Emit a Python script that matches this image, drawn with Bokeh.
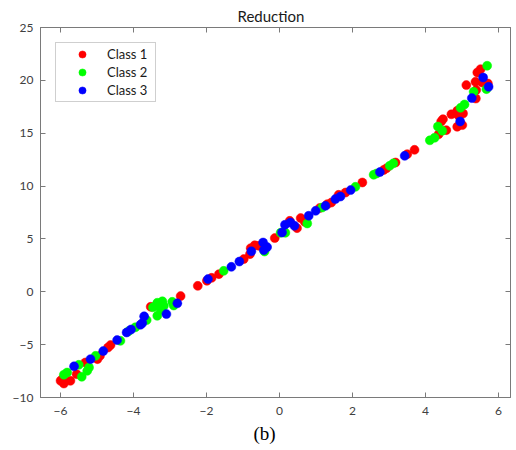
from bokeh.plotting import figure
from bokeh.models import Range1d, LinearAxis, FixedTicker, Legend, LegendItem, Title
from bokeh.embed import file_html
from bokeh.resources import INLINE

# Class 1 (red)
c1_x = [-6.00, -5.95, -5.91, -5.73, -5.56, -5.32, -4.99, -4.92, -4.70, -4.63,
        -3.53, -2.71, -2.24, -1.99, -1.86, -1.66, -0.98, -0.81, -0.79, -0.68,
        -0.57, -0.13, 0.28, 0.48, 0.58, 0.69, 1.10, 1.31, 1.42, 1.62,
        1.81, 2.27, 2.85, 2.93, 3.18, 3.50, 3.70, 4.36, 4.57, 4.43,
        4.48, 4.71, 4.87, 5.03, 4.91, 4.87, 5.01, 5.12, 5.39, 5.38,
        5.37, 5.55, 5.71, 5.42, 5.51]
c1_y = [-8.42, -8.26, -8.68, -8.42, -7.79, -6.69, -6.37, -6.06, -5.27, -5.04,
        -1.42, -0.41, 0.56, 1.04, 1.32, 1.67, 3.09, 3.56, 4.13, 4.40,
        4.35, 5.08, 6.71, 6.02, 6.97, 6.62, 7.92, 8.29, 8.44, 9.17,
        9.39, 10.34, 11.51, 11.68, 12.23, 13.02, 13.43, 14.90, 15.29, 16.11,
        16.33, 16.79, 17.12, 16.86, 16.65, 15.61, 15.77, 19.55, 19.08, 18.28,
        19.86, 19.80, 19.70, 20.74, 21.06]

# Class 2 (green)
c2_x = [-5.91, -5.82, -5.50, -5.42, -5.27, -5.22, -5.04, -4.36, -4.14, -3.95,
        -3.64, -3.47, -3.35, -3.21, -3.35, -3.26, -3.17, -2.94, -2.90, -1.53,
        -0.41, 0.03, 0.16, 0.76, 1.17, 2.08, 2.58, 2.66, 3.02, 3.12,
        4.12, 4.25, 4.34, 4.46, 4.96, 5.07, 5.32, 5.67, 5.69]
c2_y = [-7.85, -7.64, -6.91, -8.04, -7.48, -7.16, -6.06, -4.64, -3.74, -3.36,
        -2.68, -1.47, -1.04, -0.90, -2.27, -1.71, -1.33, -0.95, -1.30, 1.98,
        3.81, 5.58, 5.58, 6.46, 7.97, 9.93, 11.07, 11.19, 11.92, 12.15,
        14.33, 14.57, 15.63, 15.23, 17.40, 17.72, 18.92, 19.17, 21.38]

# Class 3 (blue)
c3_x = [-5.63, -5.18, -4.83, -4.45, -4.19, -4.07, -3.81, -3.76, -3.71, -3.10,
        -2.80, -1.96, -1.32, -1.10, -0.77, -0.45, -0.34, -0.43, 0.07, 0.15,
        0.30, 0.41, 0.80, 0.99, 1.26, 1.53, 1.67, 1.95, 2.75, 3.43,
        4.95, 5.27, 5.58, 5.73]
c3_y = [-7.05, -6.37, -5.61, -4.57, -3.85, -3.57, -3.12, -2.96, -2.32, -2.11,
        -1.09, 1.20, 2.36, 2.86, 3.83, 4.66, 4.23, 3.94, 5.61, 6.34,
        6.55, 6.24, 7.19, 7.66, 8.13, 8.77, 9.01, 9.62, 11.32, 12.86,
        16.11, 18.32, 20.27, 19.39]

class_names = ["Class 1", "Class 2", "Class 3"]
class_colors = ["#ff0000", "#00ff00", "#0000ff"]
x_ticks = [-6, -4, -2, 0, 2, 4, 6]
y_ticks = [-10, -5, 0, 5, 10, 15, 20, 25]
title_text = "Reduction"
caption_text = "(b)"

FONT = "Lato"
AXIS_COL = "#7a7a7a"
TICK_TXT = "#404040"

p = figure(width=516, height=450, output_backend="svg", toolbar_location=None,
           x_range=Range1d(-6.55, 6.33), y_range=Range1d(-10, 25),
           min_border_left=40, min_border_right=6, min_border_top=27,
           min_border_bottom=53, x_axis_location=None, y_axis_location=None)
p.xgrid.visible = False
p.ygrid.visible = False
p.outline_line_color = AXIS_COL
p.background_fill_color = "white"
p.border_fill_color = "white"


def make_axis(ticks, show_labels):
    ax = LinearAxis(ticker=FixedTicker(ticks=ticks))
    ax.axis_line_color = AXIS_COL
    ax.major_tick_line_color = AXIS_COL
    ax.major_tick_in = 5
    ax.major_tick_out = 0
    ax.minor_tick_line_color = None
    ax.major_label_text_font = FONT
    if show_labels:
        ax.major_label_text_font_size = "12px"
        ax.major_label_text_color = TICK_TXT
    else:
        ax.major_label_text_font_size = "1px"
        ax.major_label_text_color = None
        ax.major_label_standoff = 0
    return ax


xb = make_axis(x_ticks, True)
xt = make_axis(x_ticks, False)
yl = make_axis(y_ticks, True)
yr = make_axis(y_ticks, False)
xb.major_label_standoff = 9
yl.major_label_standoff = 7
p.add_layout(xb, "below")
p.add_layout(xt, "above")
p.add_layout(yl, "left")
p.add_layout(yr, "right")

renderers = []
for xs, ys, col in [(c1_x, c1_y, class_colors[0]),
                    (c2_x, c2_y, class_colors[1]),
                    (c3_x, c3_y, class_colors[2])]:
    r = p.scatter(xs, ys, size=9, fill_color=col, line_color=col, line_width=0.5)
    renderers.append(r)

legend = Legend(items=[LegendItem(label=n, renderers=[r]) for n, r in zip(class_names, renderers)],
                location="top_left", margin=15, padding=2, spacing=0,
                glyph_width=48, glyph_height=18, label_height=18, label_width=46,
                label_standoff=1, label_text_font=FONT, label_text_font_size="13px",
                label_text_color="#1a1a1a", border_line_color="#a0a0a0",
                border_line_width=1, background_fill_color="white")
p.add_layout(legend)

p.add_layout(Title(text=title_text, align="left", offset=197, standoff=6,
                   text_font=FONT, text_font_size="15px", text_font_style="normal",
                   text_color="#1a1a1a"), "above")
p.add_layout(Title(text=caption_text, align="left", offset=213, standoff=7,
                   text_font="Liberation Serif", text_font_size="19px",
                   text_font_style="normal", text_color="#000000"), "below")

open("out.html", "w").write(file_html(p, INLINE))
